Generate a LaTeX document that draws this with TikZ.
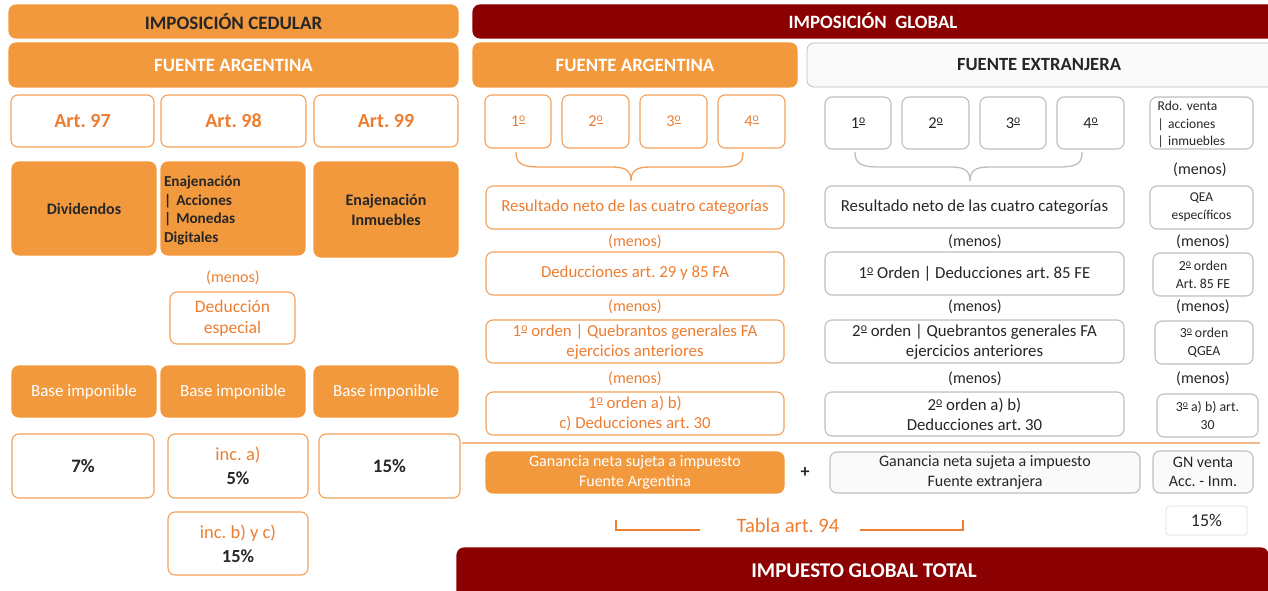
\documentclass[tikz,border=0pt]{standalone}
\usepackage{fontspec}
\setmainfont{Carlito}
\frenchspacing
\definecolor{ofill}{RGB}{243,153,61}
\definecolor{otext}{RGB}{237,125,49}
\definecolor{oborder}{RGB}{242,160,90}
\definecolor{oline}{RGB}{245,185,140}
\definecolor{dred}{RGB}{139,0,0}
\definecolor{gborder}{RGB}{190,190,190}
\definecolor{gfill}{RGB}{250,250,250}
\definecolor{dtext}{RGB}{38,38,38}
\newcommand\fz[2]{\fontsize{#1}{#2}\selectfont}
\newcommand\ord{\raisebox{0.3em}{\scalebox{0.7}{\underline{o}}}}
\newcommand\bx[7]{\node[#2, minimum width={(#5-#3)*1pt}, minimum height={(#6-#4)*1pt}] (#1) at ({(#3+#5)/2},{(#4+#6)/2}) {#7};}
\tikzset{
  base/.style={rounded corners=7pt, inner sep=0pt, outer sep=0pt, align=center, line width=1.1pt},
  ofilled/.style={base, fill=ofill, draw=ofill},
  oframe/.style={base, fill=white, draw=oborder, text=otext},
  gframe/.style={base, fill=white, draw=gborder, text=dtext},
  rfill/.style={base, fill=dred, draw=dred, text=white},
  lbl/.style={inner sep=0pt, outer sep=0pt, align=center},
}
\begin{document}
\begin{tikzpicture}[x=1pt,y=-1pt]
\useasboundingbox (0,0) rectangle (1268,591);
\begin{scope}
\clip (0,0) rectangle (1268,591);
% ---------------- left: imposicion cedular
\bx{ced}{ofilled,text=dtext,font=\fz{19}{22}\bfseries}{9}{5}{458}{38}{IMPOSICIÓN CEDULAR}
\bx{fal}{ofilled,text=white,font=\fz{18.8}{22}\bfseries}{9}{43}{458}{87}{FUENTE ARGENTINA}
\bx{a97}{oframe,font=\fz{20}{24}\bfseries}{11}{95}{154}{147}{Art. 97}
\bx{a98}{oframe,font=\fz{20}{24}\bfseries}{161}{95}{306}{147}{Art. 98}
\bx{a99}{oframe,font=\fz{20}{24}\bfseries}{314}{95}{458}{147}{Art. 99}
\bx{div}{ofilled,text=dtext,font=\fz{16}{20}\bfseries}{12}{162}{156}{255}{Dividendos}
\bx{ena}{ofilled}{161}{162}{305}{255}{}
\node[lbl,text=dtext,font=\fz{15.2}{18.5}\bfseries,align=left,text width=138pt] (enat) at (233,210.5) {Enajenación\\| Acciones\\| Monedas\\Digitales};
\bx{inm}{ofilled,text=dtext,font=\fz{16}{20}\bfseries}{314}{162}{458}{257}{Enajenación\\Inmuebles}
\node[lbl,text=otext,font=\fz{16}{20}] (mL) at (233,278) {(menos)};
\bx{dede}{oframe,font=\fz{17.5}{21}}{170}{292}{295}{344}{Deducción\\especial}
\bx{b1}{ofilled,text=white,font=\fz{17}{20}}{12}{366}{156}{417}{Base imponible}
\bx{b2}{ofilled,text=white,font=\fz{17}{20}}{161}{366}{305}{417}{Base imponible}
\bx{b3}{ofilled,text=white,font=\fz{17}{20}}{314}{366}{458}{417}{Base imponible}
\bx{r7}{oframe,text=dtext,font=\fz{19}{22}\bfseries}{12}{434}{154}{498}{7\%}
\bx{r5}{oframe,font=\fz{18.5}{24}}{168}{434}{308}{498}{inc. a)\\{\color{dtext}\bfseries 5\%}}
\bx{r15}{oframe,text=dtext,font=\fz{19}{22}\bfseries}{319}{434}{460}{498}{15\%}
\bx{r15b}{oframe,font=\fz{18.5}{24}}{168}{512}{308}{575}{inc. b) y c)\\{\color{dtext}\bfseries 15\%}}
% ---------------- right: imposicion global
\bx{glob}{rfill}{473}{5}{1280}{38}{}
\node[lbl,text=white,font=\fz{18.8}{21}\bfseries] (globt) at (873,21) {IMPOSICIÓN\ \ GLOBAL};
\bx{far}{ofilled,text=white,font=\fz{18.8}{21}\bfseries}{473}{43}{797}{87}{FUENTE ARGENTINA}
\bx{fer}{gframe,fill=gfill,line width=0.8pt}{807}{43}{1280}{87}{}
\node[lbl,text=dtext,font=\fz{18.6}{21}\bfseries] (fert) at (1039,65) {FUENTE EXTRANJERA};
% ordinals FA
\bx{o1}{oframe,font=\fz{16.5}{20}}{485}{95}{551}{148}{1\ord}
\bx{o2}{oframe,font=\fz{16.5}{20}}{562}{95}{629}{148}{2\ord}
\bx{o3}{oframe,font=\fz{16.5}{20}}{640}{95}{707}{148}{3\ord}
\bx{o4}{oframe,font=\fz{16.5}{20}}{718}{95}{785}{148}{4\ord}
% ordinals FE
\bx{e1}{gframe,font=\fz{16.5}{20}}{825}{97}{891}{149}{1\ord}
\bx{e2}{gframe,font=\fz{16.5}{20}}{902}{97}{969}{149}{2\ord}
\bx{e3}{gframe,font=\fz{16.5}{20}}{980}{97}{1046}{149}{3\ord}
\bx{e4}{gframe,font=\fz{16.5}{20}}{1057}{97}{1124}{149}{4\ord}
\bx{rdo}{gframe}{1150}{97}{1253}{149}{}
\node[lbl,text=dtext,font=\fz{13.5}{17.5},align=left,text width=88pt] (rdot) at (1201.5,124.5) {Rdo. venta\\| acciones\\| inmuebles};
\node[lbl,text=dtext,font=\fz{16}{20}] (m0) at (1200,170) {(menos)};
% braces
\draw[oborder,line width=1.3pt] (516,152) .. controls (516,163) and (521,167) .. (540,167) -- (612,167) .. controls (626,167) and (631,171) .. (631,181) .. controls (631,171) and (636,167) .. (650,167) -- (720,167) .. controls (739,167) and (743,163) .. (743,152);
\draw[gborder,line width=1.3pt] (855,152) .. controls (855,163) and (860,167) .. (879,167) -- (951,167) .. controls (965,167) and (970,171) .. (970,181) .. controls (970,171) and (975,167) .. (989,167) -- (1059,167) .. controls (1078,167) and (1082,163) .. (1082,152);
% row 1
\bx{resfa}{oframe,font=\fz{16.8}{20}}{486}{186}{784}{229}{Resultado neto de las cuatro categorías}
\bx{resfe}{gframe,font=\fz{16.8}{20}}{825}{186}{1124}{228}{Resultado neto de las cuatro categorías}
\bx{qea}{gframe,font=\fz{13.5}{18}}{1150}{186}{1253}{229}{QEA\\específicos}
\node[lbl,text=otext,font=\fz{16}{20}] (m1a) at (635,242) {(menos)};
\node[lbl,text=dtext,font=\fz{16}{20}] (m1b) at (975,242) {(menos)};
\node[lbl,text=dtext,font=\fz{16}{20}] (m1c) at (1203,242) {(menos)};
% row 2
\bx{dedfa}{oframe,font=\fz{16.8}{20}}{486}{252}{784}{295}{Deducciones art. 29 y 85 FA}
\bx{dedfe}{gframe,font=\fz{16.8}{20}}{825}{252}{1124}{295}{1\ord{} Orden | Deducciones art. 85 FE}
\bx{ord2}{gframe,font=\fz{13.8}{18}}{1153}{253}{1253}{296}{2\ord{} orden\\Art. 85 FE}
\node[lbl,text=otext,font=\fz{16}{20}] (m2a) at (635,307) {(menos)};
\node[lbl,text=dtext,font=\fz{16}{20}] (m2b) at (975,307) {(menos)};
\node[lbl,text=dtext,font=\fz{16}{20}] (m2c) at (1203,307) {(menos)};
% row 3
\bx{quefa}{oframe,font=\fz{16.8}{20}}{486}{320}{784}{363}{1\ord{} orden | Quebrantos generales FA\\ejercicios anteriores}
\bx{quefe}{gframe,font=\fz{16.8}{20}}{825}{320}{1124}{363}{2\ord{} orden | Quebrantos generales FA\\ejercicios anteriores}
\bx{qgea}{gframe,font=\fz{13.8}{18}}{1155}{321}{1253}{364}{3\ord{} orden\\QGEA}
\node[lbl,text=otext,font=\fz{16}{20}] (m3a) at (635,379) {(menos)};
\node[lbl,text=dtext,font=\fz{16}{20}] (m3b) at (975,379) {(menos)};
\node[lbl,text=dtext,font=\fz{16}{20}] (m3c) at (1203,379) {(menos)};
% row 4
\bx{d30fa}{oframe,font=\fz{16.8}{20}}{486}{392}{784}{435}{1\ord{} orden a) b)\\c) Deducciones art. 30}
\bx{d30fe}{gframe,font=\fz{16.8}{20}}{825}{392}{1124}{436}{2\ord{} orden a) b)\\Deducciones art. 30}
\bx{a30}{gframe,font=\fz{13.8}{18}}{1157}{394}{1258}{437}{3\ord{} a) b) art.\\30}
% separator line
\coordinate (sepL) at (462,443);
\coordinate (sepR) at (1260,443);
\draw[oline,line width=1.6pt] (sepL) -- (sepR);
% totals
\bx{gnfa}{ofilled,text=white,font=\fz{16}{19.5}}{486}{452}{784}{493}{Ganancia neta sujeta a impuesto\\Fuente Argentina}
\node[lbl,text=dtext,font=\fz{18}{20}\bfseries] (plus) at (805,473) {+};
\bx{gnfe}{gframe,fill=gfill,font=\fz{16}{19.5}}{830}{452}{1140}{493}{Ganancia neta sujeta a impuesto\\Fuente extranjera}
\bx{gnv}{gframe,fill=gfill,font=\fz{16}{19.5}}{1153}{451}{1253}{493}{GN venta\\Acc. - Inm.}
\bx{p15}{gframe,draw=gborder!50,font=\fz{18}{20},rounded corners=3pt,line width=0.8pt}{1166}{506}{1247}{535}{15\%}
% tabla art 94
\node[lbl,text=otext,font=\fz{20.5}{22}] (tabla) at (788,525) {Tabla art. 94};
\coordinate (tl1) at (616,520);
\coordinate (tl2) at (700,530);
\coordinate (tr1) at (860,530);
\coordinate (tr2) at (963,520);
\draw[otext,line width=1.2pt] (tl1) |- (tl2);
\draw[otext,line width=1.2pt] (tr1) -| (tr2);
% total
\bx{total}{rfill}{457}{548}{1268}{610}{}
\node[lbl,text=white,font=\fz{21}{24}\bfseries] (totalt) at (864,571) {IMPUESTO GLOBAL TOTAL};
\end{scope}
\end{tikzpicture}
\end{document}
